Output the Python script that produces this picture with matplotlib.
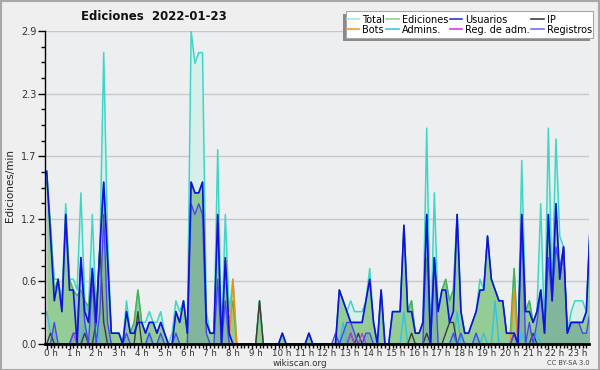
import numpy as np
import matplotlib
matplotlib.use("Agg")
import matplotlib.pyplot as plt
import matplotlib.transforms as mtransforms
from matplotlib.patches import Rectangle

# ediciones por minuto, un punto cada 10 minutos (0:00 .. 23:50)
total = [
    1.6, 1.1, 0.6, 0.6, 0.4, 1.3, 0.6, 0.6, 0.5, 1.4, 0.4, 0.3,
    1.2, 0.3, 0.9, 2.7, 1.0, 0.1, 0.1, 0.1, 0.0, 0.4, 0.1, 0.2,
    0.5, 0.2, 0.2, 0.3, 0.2, 0.2, 0.3, 0.1, 0.0, 0.1, 0.4, 0.3,
    0.4, 0.1, 2.9, 2.6, 2.7, 2.7, 0.3, 0.1, 0.1, 1.8, 0.0, 1.2,
    0.3, 0.6, 0.0, 0.0, 0.0, 0.0, 0.0, 0.0, 0.4, 0.0, 0.0, 0.0,
    0.0, 0.0, 0.1, 0.0, 0.0, 0.0, 0.0, 0.0, 0.0, 0.1, 0.0, 0.0,
    0.0, 0.0, 0.0, 0.0, 0.0, 0.5, 0.4, 0.3, 0.4, 0.3, 0.3, 0.3,
    0.4, 0.7, 0.2, 0.0, 0.5, 0.0, 0.0, 0.3, 0.3, 0.3, 1.1, 0.3,
    0.4, 0.1, 0.1, 0.2, 2.0, 0.0, 1.4, 0.3, 0.5, 0.6, 0.4, 0.5,
    1.2, 0.3, 0.1, 0.1, 0.2, 0.3, 0.6, 0.5, 1.0, 0.6, 0.5, 0.4,
    0.4, 0.1, 0.1, 0.7, 0.0, 1.7, 0.3, 0.4, 0.2, 0.3, 1.3, 0.1,
    2.0, 0.5, 1.9, 1.0, 0.9, 0.1, 0.3, 0.4, 0.4, 0.4, 0.3, 1.1,
]
ediciones = [
    1.5, 1.1, 0.5, 0.6, 0.3, 1.2, 0.6, 0.5, 0.45, 0.5, 0.4, 0.35,
    0.7, 0.3, 0.9, 1.5, 0.8, 0.1, 0.1, 0.1, 0.0, 0.3, 0.1, 0.2,
    0.5, 0.2, 0.1, 0.2, 0.2, 0.1, 0.2, 0.1, 0.0, 0.0, 0.3, 0.2,
    0.4, 0.1, 1.5, 1.4, 1.4, 1.5, 0.2, 0.1, 0.1, 1.2, 0.0, 0.8,
    0.2, 0.4, 0.0, 0.0, 0.0, 0.0, 0.0, 0.0, 0.4, 0.0, 0.0, 0.0,
    0.0, 0.0, 0.1, 0.0, 0.0, 0.0, 0.0, 0.0, 0.0, 0.1, 0.0, 0.0,
    0.0, 0.0, 0.0, 0.0, 0.0, 0.5, 0.4, 0.3, 0.2, 0.2, 0.2, 0.2,
    0.4, 0.6, 0.2, 0.0, 0.5, 0.0, 0.0, 0.3, 0.3, 0.3, 1.1, 0.3,
    0.4, 0.1, 0.1, 0.2, 0.8, 0.0, 0.8, 0.3, 0.5, 0.6, 0.4, 0.5,
    1.2, 0.3, 0.1, 0.1, 0.2, 0.3, 0.5, 0.5, 1.0, 0.6, 0.5, 0.4,
    0.4, 0.1, 0.1, 0.7, 0.0, 1.2, 0.3, 0.4, 0.2, 0.3, 0.5, 0.1,
    1.2, 0.4, 1.3, 0.6, 0.9, 0.1, 0.2, 0.2, 0.2, 0.2, 0.3, 1.1,
]
usuarios = [
    1.6, 1.0, 0.4, 0.6, 0.3, 1.2, 0.5, 0.5, 0.0, 0.8, 0.3, 0.2,
    0.7, 0.2, 0.9, 1.5, 0.8, 0.1, 0.1, 0.1, 0.0, 0.3, 0.1, 0.1,
    0.2, 0.2, 0.1, 0.2, 0.2, 0.1, 0.2, 0.1, 0.0, 0.0, 0.3, 0.2,
    0.4, 0.1, 1.5, 1.4, 1.4, 1.5, 0.2, 0.1, 0.1, 1.2, 0.0, 0.8,
    0.1, 0.0, 0.0, 0.0, 0.0, 0.0, 0.0, 0.0, 0.0, 0.0, 0.0, 0.0,
    0.0, 0.0, 0.1, 0.0, 0.0, 0.0, 0.0, 0.0, 0.0, 0.1, 0.0, 0.0,
    0.0, 0.0, 0.0, 0.0, 0.0, 0.5, 0.4, 0.3, 0.2, 0.2, 0.2, 0.2,
    0.4, 0.6, 0.2, 0.0, 0.5, 0.0, 0.0, 0.3, 0.3, 0.3, 1.1, 0.3,
    0.3, 0.1, 0.1, 0.2, 1.2, 0.0, 0.8, 0.3, 0.5, 0.5, 0.2, 0.3,
    1.2, 0.3, 0.1, 0.1, 0.2, 0.3, 0.5, 0.5, 1.0, 0.6, 0.5, 0.4,
    0.4, 0.1, 0.1, 0.1, 0.0, 1.2, 0.3, 0.3, 0.2, 0.3, 0.5, 0.1,
    1.2, 0.4, 1.3, 0.6, 0.9, 0.1, 0.2, 0.2, 0.2, 0.2, 0.3, 1.1,
]
registros = [
    0.0, 0.0, 0.2, 0.0, 0.0, 0.0, 0.0, 0.1, 0.1, 0.8, 0.2, 0.0,
    0.6, 0.0, 0.3, 1.2, 0.2, 0.0, 0.0, 0.0, 0.0, 0.1, 0.0, 0.0,
    0.0, 0.0, 0.0, 0.1, 0.0, 0.0, 0.1, 0.0, 0.0, 0.0, 0.1, 0.0,
    0.0, 0.0, 1.3, 1.2, 1.3, 1.2, 0.1, 0.0, 0.0, 0.6, 0.0, 0.4,
    0.0, 0.0, 0.0, 0.0, 0.0, 0.0, 0.0, 0.0, 0.0, 0.0, 0.0, 0.0,
    0.0, 0.0, 0.0, 0.0, 0.0, 0.0, 0.0, 0.0, 0.0, 0.0, 0.0, 0.0,
    0.0, 0.0, 0.0, 0.0, 0.1, 0.0, 0.1, 0.2, 0.2, 0.1, 0.0, 0.0,
    0.1, 0.1, 0.0, 0.0, 0.0, 0.0, 0.0, 0.0, 0.0, 0.0, 0.0, 0.0,
    0.0, 0.0, 0.0, 0.0, 1.2, 0.0, 0.8, 0.0, 0.0, 0.0, 0.0, 0.1,
    0.0, 0.1, 0.0, 0.0, 0.0, 0.1, 0.0, 0.0, 0.0, 0.0, 0.0, 0.0,
    0.0, 0.0, 0.0, 0.1, 0.0, 1.2, 0.0, 0.2, 0.0, 0.2, 0.5, 0.1,
    0.8, 0.4, 0.9, 0.7, 0.9, 0.1, 0.2, 0.2, 0.2, 0.1, 0.1, 0.3,
]
ip = [0.0] * 144
for k, v in {1: 0.1, 10: 0.1, 13: 0.2, 14: 0.9, 15: 0.2, 24: 0.3, 56: 0.4,
             80: 0.1, 82: 0.1, 96: 0.1, 100: 0.1, 105: 0.1, 106: 0.2,
             107: 0.2, 123: 0.1, 128: 0.1}.items():
    ip[k] = v
admins = [0.0] * 144
for k, v in {0: 0.3, 1: 0.1, 10: 0.2, 13: 0.2, 27: 0.1, 78: 0.2, 94: 0.3,
             108: 0.3, 113: 0.1, 115: 0.1, 118: 0.4, 125: 0.1, 129: 0.1}.items():
    admins[k] = v
bots = [0.0] * 144
bots[49] = 0.6
bots[123] = 0.5
reg_adm = [0.0] * 144
reg_adm[7] = 0.1
reg_adm[80] = 0.1
reg_adm[83] = 0.1

hour_labels = [f"{h} h" for h in range(24)]

x = np.arange(len(total))

fig = plt.figure(figsize=(6, 3.7), dpi=100, facecolor="#efefef")
ax = fig.add_axes([45 / 600, 26 / 370, 544 / 600, 313 / 370])
ax.set_facecolor("#eceef0")

# rellenos
ax.fill_between(x, total, color="#d6efeb", lw=0, zorder=1)
ax.fill_between(x, ediciones, color="#8cc98c", alpha=0.9, lw=0, zorder=2)
ax.fill_between(x, registros, color="#3050c0", alpha=0.18, lw=0, zorder=3)

# líneas
ax.plot(x, total, color="#40d6c6", lw=1.1, zorder=4)
ax.plot(x, ediciones, color="#4cb04c", lw=1.0, zorder=4)
ax.plot(x, admins, color="#30c4e0", lw=1.0, zorder=5)
ax.plot(x, ip, color="#3c3c3c", lw=1.0, zorder=5)
ax.plot(x, reg_adm, color="#c040d0", lw=1.0, zorder=5)
ax.plot(x, bots, color="#f09010", lw=1.1, zorder=5)
ax.plot(x, registros, color="#4848f0", lw=1.0, zorder=6)
ax.plot(x, usuarios, color="#1010e0", lw=1.2, zorder=7)

ax.set_xlim(-0.45, 142.7)
ax.set_ylim(0, 2.9)
yt = np.linspace(0, 2.9, 6)
ax.set_yticks(yt)
ax.set_yticklabels([f"{v:.1f}" for v in yt])
ax.set_yticks(np.arange(0, 2.91, 0.145), minor=True)
ax.set_xticks(np.arange(0, 144, 6))
ax.set_xticklabels(hour_labels)
ax.set_xticks(np.arange(0, 143), minor=True)
ax.grid(axis="y", color="#c8c8c8", lw=1.0, zorder=0)
ax.set_axisbelow(True)

for s in ["top", "right"]:
    ax.spines[s].set_visible(False)
ax.spines["left"].set_linewidth(1.0)
ax.spines["bottom"].set_linewidth(2.0)
ax.spines["left"].set_zorder(10)
ax.spines["bottom"].set_zorder(10)
ax.tick_params(axis="y", which="major", length=5, width=1, labelsize=7,
               pad=1, colors="black", labelcolor="#333333")
ax.tick_params(axis="y", which="minor", length=3, width=1)
ax.tick_params(axis="x", which="major", length=3.5, width=1, labelsize=6.3,
               pad=0, labelcolor="#333333")
ax.tick_params(axis="x", which="minor", length=3, width=1)
# las etiquetas de hora arrancan un poco a la izquierda de la marca
shift = mtransforms.ScaledTranslation(-3 / 100, 0, fig.dpi_scale_trans)
for lab in ax.get_xticklabels():
    lab.set_horizontalalignment("left")
    lab.set_transform(lab.get_transform() + shift)

fig.text(154 / 600, 1 - 17 / 370, "Ediciones  2022-01-23", ha="center",
         va="center", fontsize=8.5, fontweight="bold", color="#111111")
fig.text(10 / 600, 1 - 185 / 370, "Ediciones/min", rotation=90, ha="center",
         va="center", fontsize=7.5, color="#222222")
fig.text(300 / 600, 1 - 363.5 / 370, "wikiscan.org", ha="center", va="center",
         fontsize=6.3, color="#333333")
fig.text(590 / 600, 1 - 363 / 370, "CC BY-SA 3.0", ha="right", va="center",
         fontsize=4.8, color="#444444")

# caja de la leyenda con sombra hacia abajo a la izquierda
box_l, box_t, box_r, box_b = 345.5, 11.5, 593, 38
fig.patches.append(Rectangle(((box_l - 3) / 600, 1 - (box_b + 3) / 370),
                             (box_r - box_l) / 600, (box_b - box_t) / 370,
                             transform=fig.transFigure, facecolor="#8a8a8a",
                             edgecolor="none", zorder=15))
fig.patches.append(Rectangle((box_l / 600, 1 - box_b / 370),
                             (box_r - box_l) / 600, (box_b - box_t) / 370,
                             transform=fig.transFigure, facecolor="white",
                             edgecolor="#a8a8a8", lw=0.8, zorder=16))

# leyenda (orden por columnas para que quede en 2 filas)
leg_items = [
    ("Total", "#a8e6de"), ("Bots", "#f0a030"),
    ("Ediciones", "#90d490"), ("Admins.", "#40c8e0"),
    ("Usuarios", "#3434e0"), ("Reg. de adm.", "#d040e0"),
    ("IP", "#404040"), ("Registros", "#7070f0"),
]
handles = [plt.Line2D([], [], color=c, lw=1.2) for _, c in leg_items]
leg = fig.legend(handles, [n for n, _ in leg_items], ncol=4,
                 loc="center", bbox_to_anchor=((box_l + box_r) / 2 / 600,
                                               1 - (box_t + box_b) / 2 / 370),
                 fontsize=7, handlelength=1.3, handletextpad=0.3,
                 columnspacing=0.15, labelspacing=0.0, borderpad=0.0,
                 borderaxespad=0, frameon=False)
leg.set_zorder(20)

fig.patches.append(Rectangle((0.001, 0.001), 0.997, 0.996, transform=fig.transFigure,
                             fill=False, edgecolor="#a8a8a8", lw=1.5, zorder=30))

fig.savefig("out.png", dpi=100, facecolor=fig.get_facecolor())
